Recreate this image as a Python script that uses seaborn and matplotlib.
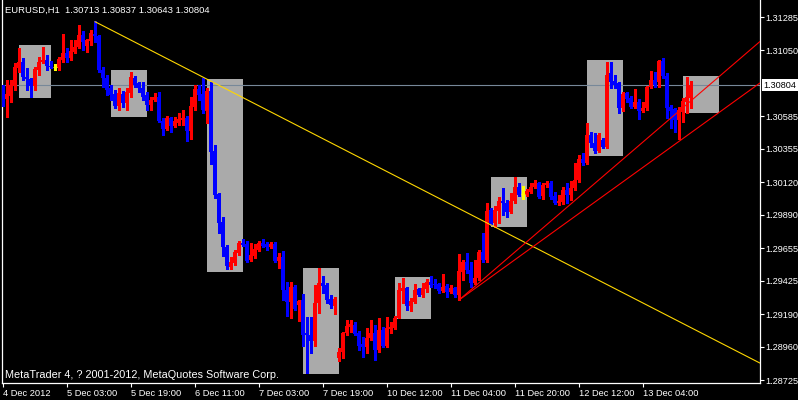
import pandas as pd
import seaborn as sns
import matplotlib
matplotlib.use("Agg")
import matplotlib.pyplot as plt
from matplotlib.patches import Rectangle

# EURUSD H1, 4 Dec 2012 - 13 Dec 2012 (one value per hourly bar)
opens = [
    1.30756, 1.30707, 1.30728, 1.30798, 1.30925, 1.30968, 1.30862, 1.30848, 1.30798, 1.30911,
    1.30968, 1.30982, 1.30939, 1.30932, 1.30925, 1.30982, 1.31031, 1.30996, 1.31038, 1.31073,
    1.31158, 1.31081, 1.31116, 1.31165, 1.31151, 1.30911, 1.30855, 1.30784, 1.30742, 1.30657,
    1.30742, 1.30679, 1.30749, 1.30855, 1.30820, 1.30784, 1.30735, 1.30664, 1.30700, 1.30721,
    1.30552, 1.30495, 1.30573, 1.30516, 1.30538, 1.30559, 1.30573, 1.30481, 1.30650, 1.30777,
    1.30742, 1.30622, 1.30763, 1.30340, 1.30037, 1.29839, 1.29663, 1.29522, 1.29550, 1.29621,
    1.29691, 1.29684, 1.29571, 1.29600, 1.29642, 1.29691, 1.29684, 1.29663, 1.29684, 1.29564,
    1.29593, 1.29360, 1.29275, 1.29381, 1.29254, 1.29289, 1.29057, 1.29042, 1.29000, 1.29268,
    1.29409, 1.29395, 1.29296, 1.29247, 1.28880, 1.28923, 1.29057, 1.29099, 1.29113, 1.29057,
    1.28979, 1.28958, 1.29021, 1.29057, 1.28937, 1.29078, 1.28965, 1.29085, 1.29092, 1.29162,
    1.29353, 1.29374, 1.29247, 1.29275, 1.29367, 1.29325, 1.29367, 1.29416, 1.29402, 1.29402,
    1.29353, 1.29388, 1.29346, 1.29374, 1.29325, 1.29487, 1.29557, 1.29501, 1.29409, 1.29444,
    1.29628, 1.29571, 1.29924, 1.29832, 1.29917, 1.29987, 1.29973, 1.29910, 1.29987, 1.30086,
    1.30037, 1.30030, 1.30051, 1.30086, 1.30114, 1.30023, 1.30100, 1.30114, 1.30023, 1.29973,
    1.29980, 1.30065, 1.30030, 1.30079, 1.30136, 1.30284, 1.30255, 1.30453, 1.30396, 1.30340,
    1.30418, 1.30368, 1.30890, 1.30834, 1.30820, 1.30643, 1.30749, 1.30714, 1.30650, 1.30686,
    1.30622, 1.30643, 1.30791, 1.30841, 1.30827, 1.30975, 1.30869, 1.30650, 1.30636, 1.30559,
    1.30615, 1.30686, 1.30713,
]
highs = [
    1.30805, 1.30841, 1.30841, 1.30961, 1.31066, 1.30996, 1.30925, 1.30855, 1.30932, 1.31003,
    1.31073, 1.31017, 1.30975, 1.30954, 1.31003, 1.31165, 1.31066, 1.31123, 1.31123, 1.31229,
    1.31186, 1.31130, 1.31193, 1.31257, 1.31158, 1.30932, 1.30876, 1.30805, 1.30770, 1.30784,
    1.30763, 1.30784, 1.30897, 1.30869, 1.30827, 1.30827, 1.30756, 1.30721, 1.30749, 1.30756,
    1.30573, 1.30587, 1.30580, 1.30580, 1.30608, 1.30629, 1.30587, 1.30721, 1.30805, 1.30805,
    1.30855, 1.30784, 1.30827, 1.30382, 1.30044, 1.29875, 1.29677, 1.29593, 1.29642, 1.29705,
    1.29719, 1.29705, 1.29691, 1.29684, 1.29705, 1.29719, 1.29698, 1.29698, 1.29698, 1.29621,
    1.29635, 1.29416, 1.29416, 1.29395, 1.29289, 1.29332, 1.29169, 1.29169, 1.29395, 1.29515,
    1.29459, 1.29409, 1.29325, 1.29310, 1.28951, 1.29064, 1.29148, 1.29148, 1.29134, 1.29071,
    1.29028, 1.29092, 1.29148, 1.29113, 1.29162, 1.29099, 1.29169, 1.29134, 1.29176, 1.29409,
    1.29444, 1.29381, 1.29303, 1.29402, 1.29374, 1.29409, 1.29437, 1.29459, 1.29437, 1.29409,
    1.29473, 1.29402, 1.29395, 1.29381, 1.29614, 1.29571, 1.29621, 1.29557, 1.29571, 1.29642,
    1.29762, 1.29973, 1.29938, 1.29952, 1.30016, 1.30079, 1.29994, 1.30044, 1.30157, 1.30114,
    1.30093, 1.30072, 1.30114, 1.30136, 1.30121, 1.30114, 1.30128, 1.30128, 1.30051, 1.30030,
    1.30086, 1.30114, 1.30128, 1.30255, 1.30312, 1.30326, 1.30538, 1.30474, 1.30467, 1.30467,
    1.30432, 1.30968, 1.30968, 1.30876, 1.30827, 1.30756, 1.30756, 1.30728, 1.30777, 1.30707,
    1.30686, 1.30798, 1.30904, 1.30897, 1.30982, 1.30996, 1.30890, 1.30664, 1.30643, 1.30650,
    1.30714, 1.30862, 1.30837,
]
lows = [
    1.30657, 1.30580, 1.30686, 1.30770, 1.30897, 1.30841, 1.30770, 1.30721, 1.30770, 1.30876,
    1.30961, 1.30911, 1.30925, 1.30911, 1.30911, 1.30968, 1.30968, 1.30982, 1.31031, 1.31066,
    1.31052, 1.31038, 1.31088, 1.31109, 1.30897, 1.30791, 1.30735, 1.30700, 1.30643, 1.30629,
    1.30650, 1.30629, 1.30721, 1.30791, 1.30756, 1.30700, 1.30629, 1.30629, 1.30693, 1.30545,
    1.30453, 1.30488, 1.30474, 1.30509, 1.30523, 1.30523, 1.30411, 1.30425, 1.30629, 1.30700,
    1.30608, 1.30538, 1.30248, 1.30009, 1.29762, 1.29600, 1.29508, 1.29508, 1.29536, 1.29607,
    1.29670, 1.29557, 1.29564, 1.29585, 1.29635, 1.29663, 1.29642, 1.29656, 1.29557, 1.29515,
    1.29289, 1.29176, 1.29162, 1.29219, 1.29141, 1.28965, 1.28775, 1.28916, 1.28965, 1.29198,
    1.29339, 1.29268, 1.29233, 1.29191, 1.28859, 1.28880, 1.29042, 1.29064, 1.29042, 1.28937,
    1.28887, 1.28916, 1.29007, 1.28866, 1.28923, 1.28958, 1.28958, 1.29057, 1.29085, 1.29162,
    1.29268, 1.29219, 1.29212, 1.29268, 1.29318, 1.29310, 1.29346, 1.29381, 1.29374, 1.29339,
    1.29346, 1.29310, 1.29339, 1.29310, 1.29289, 1.29430, 1.29480, 1.29381, 1.29402, 1.29430,
    1.29557, 1.29557, 1.29818, 1.29804, 1.29832, 1.29889, 1.29875, 1.29903, 1.29973, 1.30023,
    1.30002, 1.30023, 1.30044, 1.30079, 1.30009, 1.30002, 1.30086, 1.30002, 1.29966, 1.29959,
    1.29966, 1.29973, 1.29994, 1.30065, 1.30121, 1.30241, 1.30248, 1.30368, 1.30326, 1.30333,
    1.30361, 1.30361, 1.30784, 1.30784, 1.30608, 1.30622, 1.30686, 1.30643, 1.30643, 1.30566,
    1.30615, 1.30629, 1.30784, 1.30791, 1.30791, 1.30855, 1.30573, 1.30502, 1.30474, 1.30425,
    1.30545, 1.30608, 1.30643,
]
closes = [
    1.30700, 1.30742, 1.30805, 1.30932, 1.30968, 1.30862, 1.30848, 1.30798, 1.30918, 1.30968,
    1.30982, 1.30939, 1.30932, 1.30932, 1.30989, 1.31031, 1.30996, 1.31045, 1.31073, 1.31158,
    1.31109, 1.31123, 1.31172, 1.31151, 1.30911, 1.30855, 1.30770, 1.30735, 1.30657, 1.30749,
    1.30679, 1.30756, 1.30862, 1.30805, 1.30784, 1.30721, 1.30664, 1.30700, 1.30721, 1.30552,
    1.30495, 1.30573, 1.30516, 1.30552, 1.30566, 1.30573, 1.30481, 1.30657, 1.30777, 1.30735,
    1.30629, 1.30763, 1.30333, 1.30030, 1.29832, 1.29663, 1.29529, 1.29557, 1.29628, 1.29691,
    1.29677, 1.29564, 1.29607, 1.29649, 1.29691, 1.29670, 1.29663, 1.29684, 1.29564, 1.29593,
    1.29360, 1.29275, 1.29381, 1.29226, 1.29282, 1.29042, 1.29042, 1.29000, 1.29268, 1.29409,
    1.29388, 1.29289, 1.29254, 1.29296, 1.28923, 1.29057, 1.29106, 1.29120, 1.29050, 1.28965,
    1.28958, 1.29021, 1.29057, 1.28937, 1.29078, 1.28965, 1.29092, 1.29099, 1.29162, 1.29360,
    1.29374, 1.29247, 1.29282, 1.29360, 1.29325, 1.29374, 1.29416, 1.29395, 1.29395, 1.29353,
    1.29381, 1.29346, 1.29374, 1.29325, 1.29494, 1.29557, 1.29501, 1.29409, 1.29444, 1.29628,
    1.29571, 1.29917, 1.29832, 1.29924, 1.29987, 1.29973, 1.29910, 1.29987, 1.30086, 1.30030,
    1.30037, 1.30058, 1.30086, 1.30114, 1.30016, 1.30100, 1.30114, 1.30016, 1.29973, 1.29987,
    1.30065, 1.30030, 1.30079, 1.30136, 1.30284, 1.30255, 1.30453, 1.30396, 1.30340, 1.30453,
    1.30368, 1.30876, 1.30827, 1.30805, 1.30643, 1.30742, 1.30707, 1.30650, 1.30686, 1.30622,
    1.30643, 1.30791, 1.30841, 1.30805, 1.30975, 1.30869, 1.30643, 1.30622, 1.30559, 1.30629,
    1.30693, 1.30721, 1.30804,
]

time_ticks = [0, 16, 32, 48, 64, 80, 96, 112, 128, 144, 160]
time_labels = ["4 Dec 2012", "5 Dec 03:00", "5 Dec 19:00", "6 Dec 11:00",
               "7 Dec 03:00", "7 Dec 19:00", "10 Dec 12:00", "11 Dec 04:00",
               "11 Dec 20:00", "12 Dec 12:00", "13 Dec 04:00"]
price_ticks = [1.31285, 1.31050, 1.30585, 1.30355, 1.30120, 1.29890,
               1.29655, 1.29425, 1.29190, 1.28960, 1.28725]

# grey rectangles drawn on the chart (bar from, bar to, price top, price bottom)
box_start = [4, 27, 51, 75, 98, 122, 146, 170]
box_end = [12, 36, 60, 84, 107, 131, 155, 179]
box_top = [1.31088, 1.30911, 1.30848, 1.29515, 1.29452, 1.30157, 1.30982, 1.30869]
box_bottom = [1.30714, 1.30580, 1.29487, 1.28768, 1.29155, 1.29804, 1.30305, 1.30608]

# trend lines (two anchor points each: bar, price), drawn as rays
yellow_line = [(23, 1.31252), (52, 1.30832)]
red_upper = [(114, 1.29289), (170, 1.30646)]
red_lower = [(114, 1.29289), (169, 1.30408)]

header = "EURUSD,H1  1.30713 1.30837 1.30643 1.30804"
footer = "MetaTrader 4, ? 2001-2012, MetaQuotes Software Corp."
last_price = 1.30804

df = pd.DataFrame({"open": opens, "high": highs, "low": lows, "close": closes})
df["bar"] = range(len(df))
df["color"] = "#ffff00"
df.loc[df["close"] > df["open"], "color"] = "#ff0000"
df.loc[df["close"] < df["open"], "color"] = "#0000ff"

sns.set_theme(style="dark", rc={
    "figure.facecolor": "black", "axes.facecolor": "black",
    "axes.edgecolor": "white", "axes.linewidth": 0.8,
    "xtick.color": "white", "ytick.color": "white",
})
plt.rcParams["font.family"] = ["Liberation Sans", "DejaVu Sans"]

fig = plt.figure(figsize=(7.98, 4.0), dpi=100)
ax = fig.add_axes([2 / 798, 17 / 400, 758 / 798, 383 / 400])
x_left, x_right = -0.25, 189.25
ax.set_xlim(x_left, x_right)
ax.set_ylim(1.287039, 1.314049)

for s, e, t, b in zip(box_start, box_end, box_top, box_bottom):
    ax.add_patch(Rectangle((s, b), e - s, t - b, facecolor="#aaaaaa",
                           edgecolor="none", zorder=1))

ax.axhline(last_price, color="#778899", lw=0.8, zorder=2)

# trend rays extended to the right edge
for line, col in [(yellow_line, "#ffd700"), (red_upper, "#ff0000"), (red_lower, "#ff0000")]:
    (x1, p1), (x2, p2) = line
    p_end = p1 + (p2 - p1) / (x2 - x1) * (x_right - x1)
    sns.lineplot(x=[x1, x_right], y=[p1, p_end], ax=ax, color=col, lw=0.8,
                 estimator=None, legend=False, zorder=5)

# wicks and bodies
ax.vlines(df["bar"], df["low"], df["high"], colors=df["color"], lw=0.8,
          zorder=3, antialiased=False)
body_lo = df[["open", "close"]].min(axis=1)
body_hi = df[["open", "close"]].max(axis=1)
ax.bar(df["bar"], body_hi - body_lo, bottom=body_lo, width=0.82,
       color=df["color"], linewidth=0, zorder=4)
doji = df[df["open"] == df["close"]]
ax.hlines(doji["close"], doji["bar"] - 0.41, doji["bar"] + 0.41,
          colors=doji["color"], lw=0.8, zorder=4)

ax.spines["top"].set_visible(False)
for side in ["left", "bottom", "right"]:
    ax.spines[side].set_color("white")
    ax.spines[side].set_linewidth(0.9)

ax.set_xticks(time_ticks)
ax.set_xticklabels(time_labels, ha="left", color="white", fontsize=6.7)
ax.yaxis.tick_right()
ax.set_yticks(price_ticks)
ax.set_yticklabels([f"{p:.5f}" for p in price_ticks], color="white", fontsize=6.6)
ax.tick_params(axis="x", length=3, width=0.8, pad=1.2, bottom=True)
ax.tick_params(axis="y", length=3, width=0.8, pad=1.2, right=True, left=False)
ax.grid(False)
ax.set_xlabel("")
ax.set_ylabel("")

fig.text(5 / 798, 1 - 10.5 / 400, header, color="white", fontsize=6.8, va="center")
fig.text(5 / 798, 1 - 375.5 / 400, footer, color="white", fontsize=7.8, va="center")

# current price label on the price scale
fig.patches.append(Rectangle((762 / 798, 1 - 91 / 400), 36 / 798, 12 / 400,
                             transform=fig.transFigure, facecolor="white",
                             edgecolor="none", zorder=10))
fig.text(780 / 798, 1 - 85.5 / 400, f"{last_price:.5f}", color="black",
         fontsize=6.6, ha="center", va="center", zorder=11)

plt.savefig("out.png", dpi=100, facecolor="black")
plt.close()
